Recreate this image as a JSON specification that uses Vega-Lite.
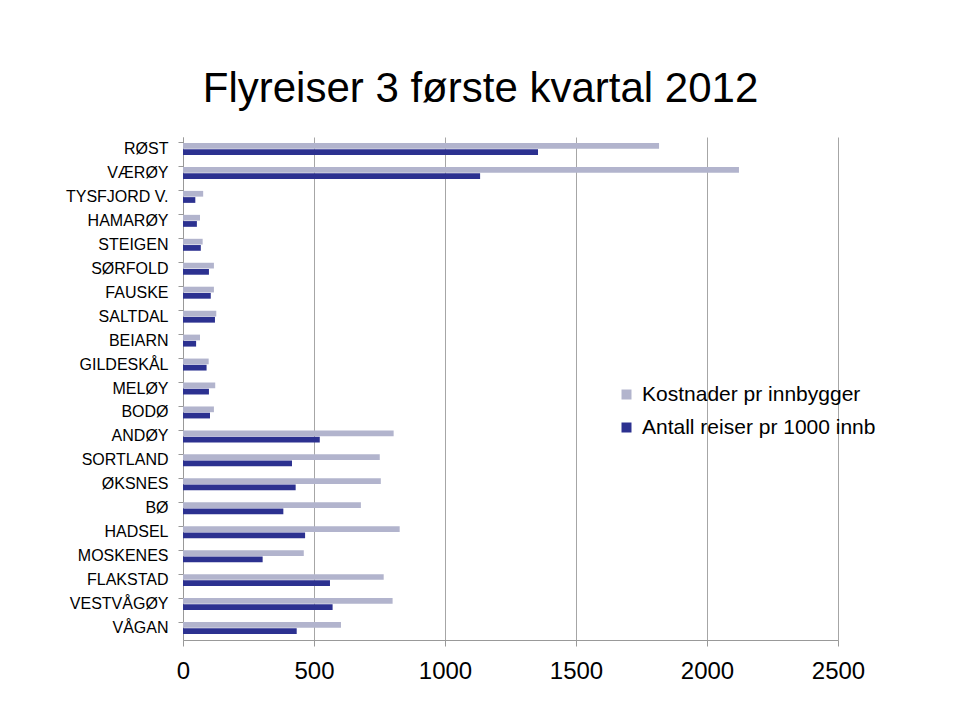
{
  "$schema": "https://vega.github.io/schema/vega-lite/v6.json",
  "autosize": {"type": "none"},
  "width": 655,
  "height": 503,
  "padding": {"left": 183, "top": 137, "right": 122, "bottom": 80},
  "background": "#ffffff",
  "config": {
    "font": "Liberation Sans",
    "view": {"stroke": null}
  },
  "title": {
    "text": "Flyreiser 3 første kvartal 2012",
    "fontSize": 42,
    "fontWeight": "normal",
    "font": "Liberation Sans",
    "color": "#000000",
    "anchor": "middle",
    "frame": "group",
    "dx": -30,
    "offset": 26
  },
  "data": {
    "values": [
      {"kommune": "RØST", "serie": "Kostnader pr innbygger", "verdi": 1817},
      {"kommune": "RØST", "serie": "Antall reiser pr 1000 innb", "verdi": 1355},
      {"kommune": "VÆRØY", "serie": "Kostnader pr innbygger", "verdi": 2122},
      {"kommune": "VÆRØY", "serie": "Antall reiser pr 1000 innb", "verdi": 1134},
      {"kommune": "TYSFJORD V.", "serie": "Kostnader pr innbygger", "verdi": 77},
      {"kommune": "TYSFJORD V.", "serie": "Antall reiser pr 1000 innb", "verdi": 47},
      {"kommune": "HAMARØY", "serie": "Kostnader pr innbygger", "verdi": 65},
      {"kommune": "HAMARØY", "serie": "Antall reiser pr 1000 innb", "verdi": 53},
      {"kommune": "STEIGEN", "serie": "Kostnader pr innbygger", "verdi": 75},
      {"kommune": "STEIGEN", "serie": "Antall reiser pr 1000 innb", "verdi": 68},
      {"kommune": "SØRFOLD", "serie": "Kostnader pr innbygger", "verdi": 118},
      {"kommune": "SØRFOLD", "serie": "Antall reiser pr 1000 innb", "verdi": 99},
      {"kommune": "FAUSKE", "serie": "Kostnader pr innbygger", "verdi": 118},
      {"kommune": "FAUSKE", "serie": "Antall reiser pr 1000 innb", "verdi": 106},
      {"kommune": "SALTDAL", "serie": "Kostnader pr innbygger", "verdi": 127},
      {"kommune": "SALTDAL", "serie": "Antall reiser pr 1000 innb", "verdi": 122},
      {"kommune": "BEIARN", "serie": "Kostnader pr innbygger", "verdi": 65},
      {"kommune": "BEIARN", "serie": "Antall reiser pr 1000 innb", "verdi": 50},
      {"kommune": "GILDESKÅL", "serie": "Kostnader pr innbygger", "verdi": 98},
      {"kommune": "GILDESKÅL", "serie": "Antall reiser pr 1000 innb", "verdi": 90},
      {"kommune": "MELØY", "serie": "Kostnader pr innbygger", "verdi": 123},
      {"kommune": "MELØY", "serie": "Antall reiser pr 1000 innb", "verdi": 99},
      {"kommune": "BODØ", "serie": "Kostnader pr innbygger", "verdi": 118},
      {"kommune": "BODØ", "serie": "Antall reiser pr 1000 innb", "verdi": 103},
      {"kommune": "ANDØY", "serie": "Kostnader pr innbygger", "verdi": 804},
      {"kommune": "ANDØY", "serie": "Antall reiser pr 1000 innb", "verdi": 522},
      {"kommune": "SORTLAND", "serie": "Kostnader pr innbygger", "verdi": 751},
      {"kommune": "SORTLAND", "serie": "Antall reiser pr 1000 innb", "verdi": 416},
      {"kommune": "ØKSNES", "serie": "Kostnader pr innbygger", "verdi": 755},
      {"kommune": "ØKSNES", "serie": "Antall reiser pr 1000 innb", "verdi": 430},
      {"kommune": "BØ", "serie": "Kostnader pr innbygger", "verdi": 679},
      {"kommune": "BØ", "serie": "Antall reiser pr 1000 innb", "verdi": 383},
      {"kommune": "HADSEL", "serie": "Kostnader pr innbygger", "verdi": 827},
      {"kommune": "HADSEL", "serie": "Antall reiser pr 1000 innb", "verdi": 466},
      {"kommune": "MOSKENES", "serie": "Kostnader pr innbygger", "verdi": 461},
      {"kommune": "MOSKENES", "serie": "Antall reiser pr 1000 innb", "verdi": 304},
      {"kommune": "FLAKSTAD", "serie": "Kostnader pr innbygger", "verdi": 766},
      {"kommune": "FLAKSTAD", "serie": "Antall reiser pr 1000 innb", "verdi": 561},
      {"kommune": "VESTVÅGØY", "serie": "Kostnader pr innbygger", "verdi": 800},
      {"kommune": "VESTVÅGØY", "serie": "Antall reiser pr 1000 innb", "verdi": 571},
      {"kommune": "VÅGAN", "serie": "Kostnader pr innbygger", "verdi": 603},
      {"kommune": "VÅGAN", "serie": "Antall reiser pr 1000 innb", "verdi": 434}
    ]
  },
  "mark": {"type": "bar", "cornerRadius": 0},
  "encoding": {
    "y": {
      "field": "kommune",
      "type": "nominal",
      "sort": null,
      "scale": {"paddingInner": 0.5, "paddingOuter": 0.25},
      "axis": {
        "title": null,
        "labelFontSize": 16,
        "labelColor": "#000000",
        "labelFont": "Liberation Sans",
        "labelPadding": 10,
        "tickSize": 5,
        "tickColor": "#999999",
        "domainColor": "#999999",
        "bandPosition": 0,
        "grid": false
      }
    },
    "yOffset": {
      "field": "serie",
      "type": "nominal",
      "sort": ["Kostnader pr innbygger", "Antall reiser pr 1000 innb"],
      "scale": {"paddingInner": 0.08}
    },
    "x": {
      "field": "verdi",
      "type": "quantitative",
      "scale": {"domain": [0, 2500], "nice": false},
      "axis": {
        "title": null,
        "values": [0, 500, 1000, 1500, 2000, 2500],
        "format": "d",
        "labelFontSize": 24,
        "labelColor": "#000000",
        "labelFont": "Liberation Sans",
        "labelPadding": 13,
        "tickSize": 6,
        "tickColor": "#999999",
        "domainColor": "#999999",
        "grid": true,
        "gridColor": "#a6a6a6",
        "gridWidth": 1,
        "labelFlush": false
      }
    },
    "color": {
      "field": "serie",
      "type": "nominal",
      "sort": ["Kostnader pr innbygger", "Antall reiser pr 1000 innb"],
      "scale": {"range": ["#b2b4cd", "#2c3190"]},
      "legend": {
        "title": null,
        "orient": "none",
        "legendX": 433,
        "legendY": 247,
        "padding": 0,
        "symbolType": "square",
        "symbolSize": 100,
        "symbolStrokeWidth": 0,
        "labelFontSize": 21,
        "labelFont": "Liberation Sans",
        "labelColor": "#000000",
        "labelOffset": 5,
        "labelLimit": 0,
        "rowPadding": 11
      }
    }
  }
}
